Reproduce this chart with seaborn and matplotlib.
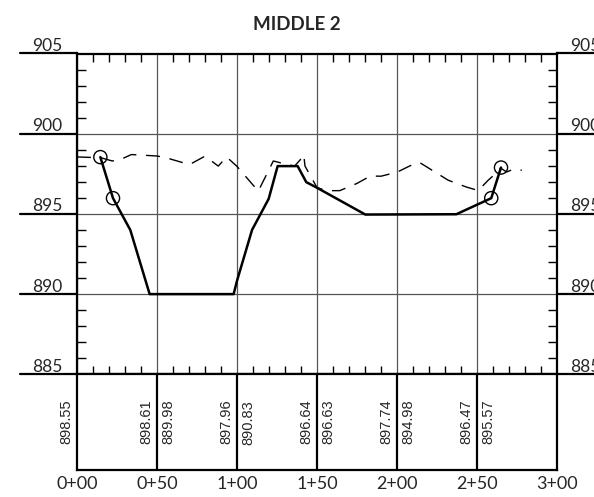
import matplotlib
matplotlib.use('Agg')
import matplotlib.pyplot as plt
from matplotlib.ticker import MultipleLocator
import pandas as pd
import seaborn as sns

# Existing ground profile (station ft, elevation ft)
ground_sta = [0, 15, 22, 26, 34, 50, 56, 66, 70.6, 80, 88.3, 93.5, 100, 113.3,
              122.7, 131.3, 136, 139.4, 141.7, 142.5, 150, 156, 164.2, 175,
              183.3, 190, 200, 212.3, 215, 223.75, 232, 243.5, 250.8, 257,
              260.8, 264.8, 268.5, 273, 278]
ground_elev = [898.55, 898.50, 898.30, 898.34, 898.70, 898.61, 898.49, 898.20,
               898.09, 898.60, 897.98, 898.55, 897.96, 896.42, 898.30, 898.08,
               897.98, 898.36, 898.70, 897.98, 896.64, 896.45, 896.45, 896.90,
               897.36, 897.35, 897.60, 898.20, 898.15, 897.61, 897.10, 896.67,
               896.46, 897.10, 897.44, 897.86, 897.61, 897.80, 897.72]

# Proposed section
prop_sta = [14.6, 22.5, 33.3, 45.4, 97.9, 100, 109.4, 119.8, 125.4, 137.9,
            143.3, 150, 180.2, 237.1, 258.9, 265]
prop_elev = [898.54, 895.98, 894.0, 890.0, 890.0, 890.83, 894.0, 895.94,
             897.98, 897.98, 896.98, 896.63, 894.96, 894.98, 895.98, 897.89]

# Catch points
catch_sta = [14.6, 22.5, 258.9, 265]
catch_elev = [898.54, 895.98, 895.98, 897.89]

# Labels in the lower band
label_sta = [0, 50, 100, 150, 200, 250]
ground_labels = ['898.55', '898.61', '897.96', '896.64', '897.74', '896.47']
prop_labels = ['', '889.98', '890.83', '896.63', '894.98', '895.57']
station_ticks = [0, 50, 100, 150, 200, 250, 300]
station_names = ['0+00', '0+50', '1+00', '1+50', '2+00', '2+50', '3+00']
elev_ticks = [885, 890, 895, 900, 905]

sns.set_style('white')
plt.rcParams['font.family'] = ['Lato', 'DejaVu Sans']

fig = plt.figure(figsize=(5.94, 4.97), dpi=100)
ax = fig.add_axes([77 / 594, 1 - 374.3 / 497, 480 / 594, 320.8 / 497])
box = fig.add_axes([77 / 594, 1 - 470 / 497, 480 / 594, 95.7 / 497])

gdf = pd.DataFrame({'sta': ground_sta, 'elev': ground_elev})
pdf = pd.DataFrame({'sta': prop_sta, 'elev': prop_elev})
cdf = pd.DataFrame({'sta': catch_sta, 'elev': catch_elev})

sns.lineplot(data=gdf, x='sta', y='elev', ax=ax, color='black', lw=1.0,
             linestyle=(0, (10, 7)), estimator=None, sort=False)
sns.lineplot(data=pdf, x='sta', y='elev', ax=ax, color='black', lw=1.8,
             estimator=None, sort=False)
sns.scatterplot(data=cdf, x='sta', y='elev', ax=ax, marker='o', s=90,
                facecolors='none', edgecolor='black', linewidth=1.0, zorder=5)

ax.set_xlim(0, 300)
ax.set_ylim(885, 905)
ax.set_xlabel('')
ax.set_ylabel('')
ax.set_xticks(station_ticks)
ax.set_yticks(elev_ticks)
ax.xaxis.set_minor_locator(MultipleLocator(10))
ax.yaxis.set_minor_locator(MultipleLocator(1))
ax.grid(True, which='major', color='#555555', lw=0.9)
ax.tick_params(which='major', length=0, labelbottom=False, labelleft=False)
ax.tick_params(axis='x', which='minor', direction='in', length=6, width=1,
               top=True, bottom=True, color='black')
ax.tick_params(axis='y', which='minor', direction='in', length=6.5, width=1,
               left=True, right=True, color='black')
for s in ax.spines.values():
    s.set_visible(True)
    s.set_color('black')
    s.set_linewidth(1.6)

# elevation leaders and labels at both sides
for e in elev_ticks:
    ax.plot([-0.119, 0], [e, e], color='black', lw=1.6,
            transform=ax.get_yaxis_transform(), clip_on=False)
    ax.plot([1, 1.1], [e, e], color='black', lw=1.6,
            transform=ax.get_yaxis_transform(), clip_on=False)
    ax.text(-0.031, e + 0.15, str(e), transform=ax.get_yaxis_transform(),
            ha='right', va='baseline', fontsize=12.5, clip_on=False)
    ax.text(1.027, e + 0.15, str(e), transform=ax.get_yaxis_transform(),
            ha='left', va='baseline', fontsize=12.5, clip_on=False)

# lower band
box.set_xlim(0, 300)
box.set_ylim(0, 1)
box.set_yticks([])
box.set_xticks(station_ticks)
box.set_xticklabels(station_names, fontsize=13)
box.tick_params(axis='x', length=0, pad=4)
for s in box.spines.values():
    s.set_visible(True)
    s.set_color('black')
    s.set_linewidth(1.6)
for x in station_ticks[1:-1]:
    box.axvline(x, color='black', lw=1.6)
for x, g, p in zip(label_sta, ground_labels, prop_labels):
    box.text(x - 2.5, 0.5, g, rotation=90, ha='right', va='center',
             fontsize=10.5, family='Liberation Sans', clip_on=False)
    if p:
        box.text(x + 2.8, 0.5, p, rotation=90, ha='left', va='center',
                 fontsize=10.5, family='Liberation Sans', clip_on=False)

fig.text(0.5, 1 - 30 / 497, 'MIDDLE 2', ha='center', va='baseline',
         fontsize=13.5, fontweight='bold')

fig.savefig('out.png', dpi=100)
